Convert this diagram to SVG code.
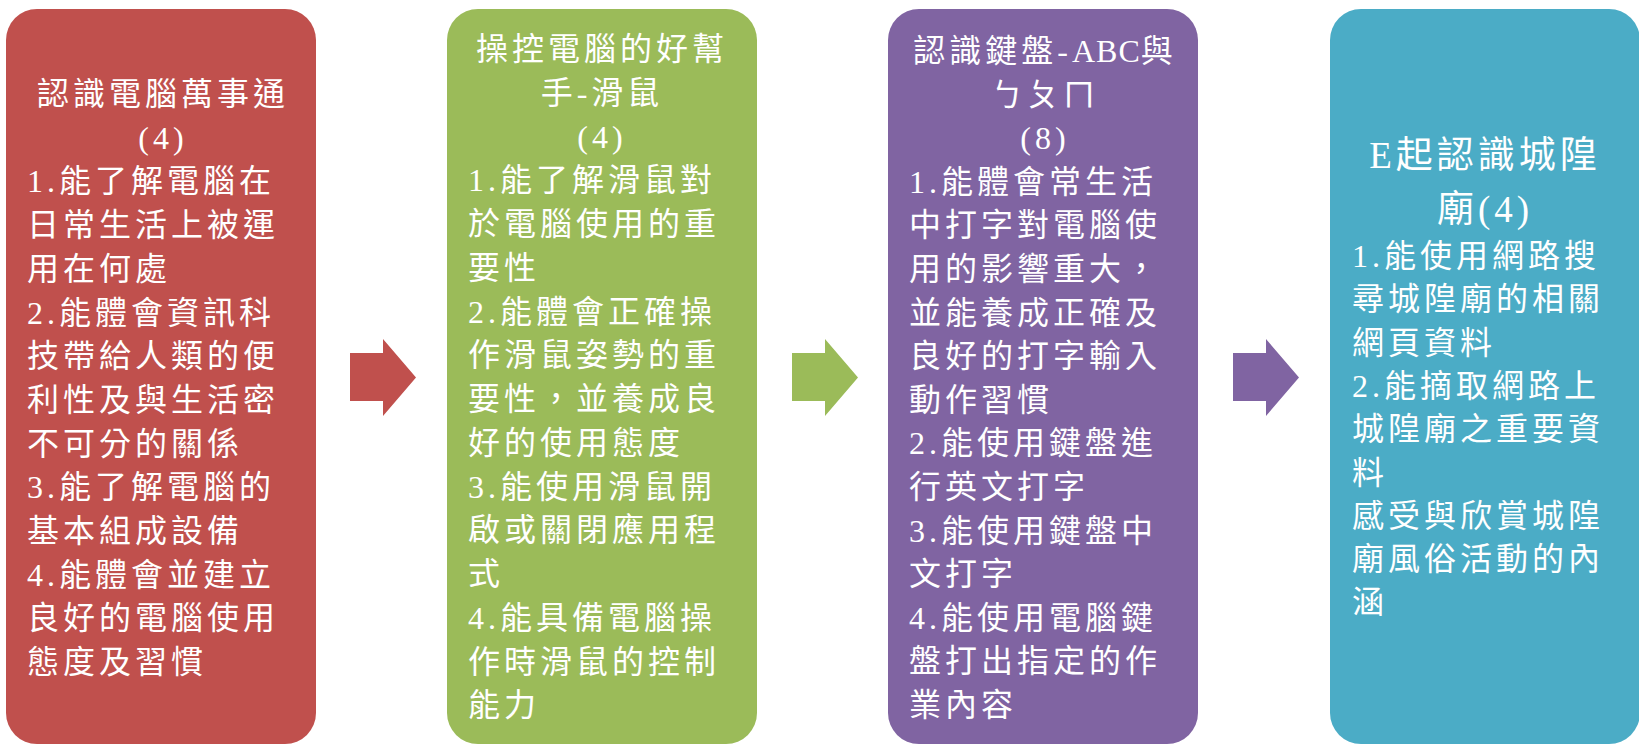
<svg xmlns="http://www.w3.org/2000/svg" width="1639" height="745" viewBox="0 0 1639 745">
<style>
text{font-family:"Liberation Serif","Noto Sans CJK TC",serif;fill:#fff;font-size:32px;letter-spacing:4px}
.c{text-anchor:middle}
.big{font-size:37px}
</style>
<rect width="1639" height="745" fill="#fff"/>
<g id="connectors">
<polygon fill="#C0504D" points="350,353 383,353 383,339 416,377.5 383,416 383,401 350,401"/>
<polygon fill="#9BBB59" points="792,353 825,353 825,339 858,377.5 825,416 825,401 792,401"/>
<polygon fill="#8064A2" points="1233,353 1266,353 1266,339 1299,377.5 1266,416 1266,401 1233,401"/>
</g>
<g id="node1">
<rect x="6" y="9" width="310" height="735" rx="31" fill="#C0504D"/>
<text class="c" x="163" y="105">認識電腦萬事通</text>
<text class="c" x="163" y="148.7">(4)</text>
<text x="27" y="192.4">1.能了解電腦在</text>
<text x="27" y="236.1">日常生活上被運</text>
<text x="27" y="279.8">用在何處</text>
<text x="27" y="323.5">2.能體會資訊科</text>
<text x="27" y="367.2">技帶給人類的便</text>
<text x="27" y="410.9">利性及與生活密</text>
<text x="27" y="454.6">不可分的關係</text>
<text x="27" y="498.3">3.能了解電腦的</text>
<text x="27" y="542">基本組成設備</text>
<text x="27" y="585.7">4.能體會並建立</text>
<text x="27" y="629.4">良好的電腦使用</text>
<text x="27" y="673.1">態度及習慣</text>
</g>
<g id="node2">
<rect x="447" y="9" width="310" height="735" rx="31" fill="#9BBB59"/>
<text class="c" x="602" y="60">操控電腦的好幫</text>
<text class="c" x="602" y="103.75">手-滑鼠</text>
<text class="c" x="602" y="147.5">(4)</text>
<text x="468" y="191.25">1.能了解滑鼠對</text>
<text x="468" y="235">於電腦使用的重</text>
<text x="468" y="278.75">要性</text>
<text x="468" y="322.5">2.能體會正確操</text>
<text x="468" y="366.25">作滑鼠姿勢的重</text>
<text x="468" y="410">要性，並養成良</text>
<text x="468" y="453.75">好的使用態度</text>
<text x="468" y="497.5">3.能使用滑鼠開</text>
<text x="468" y="541.25">啟或關閉應用程</text>
<text x="468" y="585">式</text>
<text x="468" y="628.75">4.能具備電腦操</text>
<text x="468" y="672.5">作時滑鼠的控制</text>
<text x="468" y="716.25">能力</text>
</g>
<g id="node3">
<rect x="888" y="9" width="310" height="735" rx="31" fill="#8064A2"/>
<text class="c" x="1045" y="62">認識鍵盤-<tspan letter-spacing="1">ABC</tspan>與</text>
<text class="c" x="1045" y="105.6">ㄅㄆㄇ</text>
<text class="c" x="1045" y="149.2">(8)</text>
<text x="909" y="192.8">1.能體會常生活</text>
<text x="909" y="236.4">中打字對電腦使</text>
<text x="909" y="280">用的影響重大，</text>
<text x="909" y="323.6">並能養成正確及</text>
<text x="909" y="367.2">良好的打字輸入</text>
<text x="909" y="410.8">動作習慣</text>
<text x="909" y="454.4">2.能使用鍵盤進</text>
<text x="909" y="498">行英文打字</text>
<text x="909" y="541.6">3.能使用鍵盤中</text>
<text x="909" y="585.2">文打字</text>
<text x="909" y="628.8">4.能使用電腦鍵</text>
<text x="909" y="672.4">盤打出指定的作</text>
<text x="909" y="716">業內容</text>
</g>
<g id="node4">
<rect x="1330" y="9" width="310" height="735" rx="31" fill="#4BACC6"/>
<text class="c big" x="1485" y="168">E起認識城隍</text>
<text class="c big" x="1485" y="222">廟(4)</text>
<text x="1352" y="267">1.能使用網路搜</text>
<text x="1352" y="310.3">尋城隍廟的相關</text>
<text x="1352" y="353.6">網頁資料</text>
<text x="1352" y="396.9">2.能摘取網路上</text>
<text x="1352" y="440.2">城隍廟之重要資</text>
<text x="1352" y="483.5">料</text>
<text x="1352" y="526.8">感受與欣賞城隍</text>
<text x="1352" y="570.1">廟風俗活動的內</text>
<text x="1352" y="613.4">涵</text>
</g>
</svg>
